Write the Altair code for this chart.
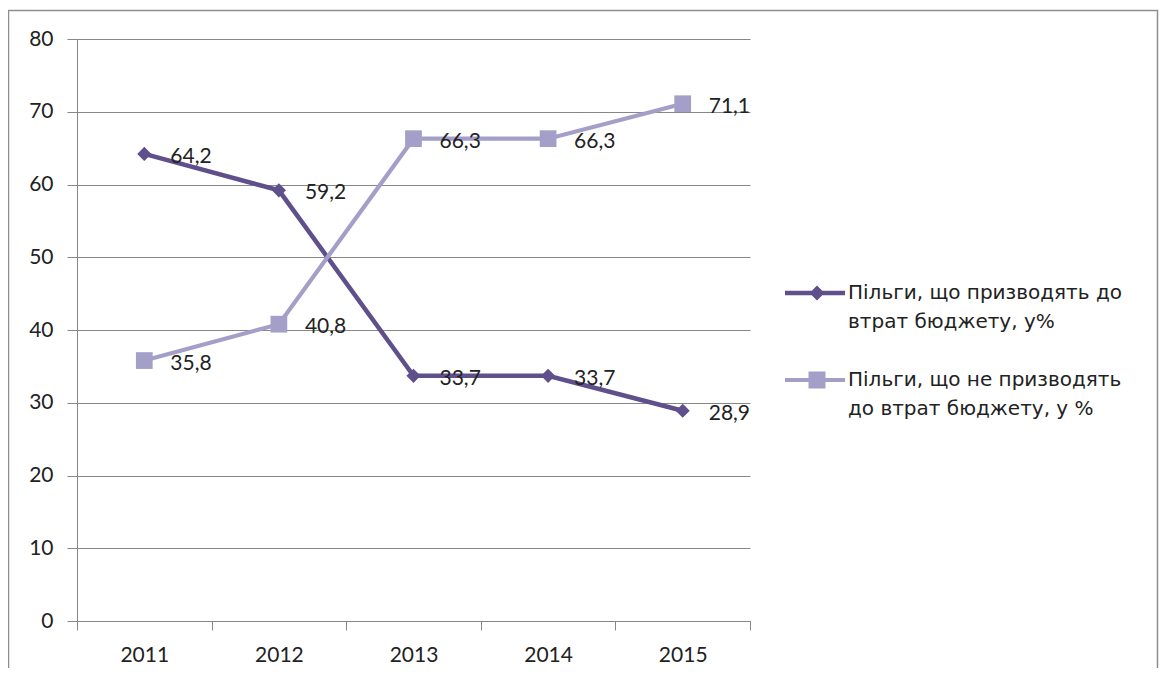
import altair as alt
import pandas as pd

years = ["2011", "2012", "2013", "2014", "2015"]
series_names = [
    "Пільги, що призводять до втрат бюджету,  у%",
    "Пільги, що не призводять до втрат бюджету, у %",
]
values_loss = [64.2, 59.2, 33.7, 33.7, 28.9]
values_noloss = [35.8, 40.8, 66.3, 66.3, 71.1]
legend_lines = [
    ["Пільги, що призводять до", "втрат бюджету,  у%"],
    ["Пільги, що не призводять", "до втрат бюджету, у %"],
]
y_ticks = [0, 10, 20, 30, 40, 50, 60, 70, 80]

colors = ["#5F4F8B", "#A39FC8"]
marker_shapes = ["diamond", "square"]
marker_sizes = [200, 280]
line_widths = [4.5, 4.2]

rows = []
for name, vals in zip(series_names, [values_loss, values_noloss]):
    for yr, v in zip(years, vals):
        rows.append({"year": yr, "series": name, "value": v})
df = pd.DataFrame(rows)

FONT = "Lato"
TXT = "#222222"
GRAY = "#878787"

x_enc = alt.X(
    "year:O",
    sort=years,
    scale=alt.Scale(type="band", paddingInner=0, paddingOuter=0),
    axis=alt.Axis(
        title=None, tickBand="extent", labelAngle=0, tickSize=9,
        domainColor=GRAY, tickColor=GRAY, labelFont=FONT, labelFontSize=21,
        labelColor=TXT, labelPadding=14, grid=False,
    ),
)
y_enc = alt.Y(
    "value:Q",
    scale=alt.Scale(domain=[0, 80], nice=False),
    axis=alt.Axis(
        title=None, values=y_ticks, tickSize=10, grid=True, gridColor=GRAY,
        gridWidth=1, domainColor=GRAY, tickColor=GRAY, labelFont=FONT,
        labelFontSize=21, labelColor=TXT, labelPadding=14,
    ),
)

base = alt.Chart(df)

layers = []
# outer frame
frame = alt.Chart(alt.Data(values=[{"f": 1}])).mark_rect(
    fillOpacity=0, stroke="#8e8e8e", strokeWidth=1.5
).encode(
    x=alt.value(-68.5), x2=alt.value(1080.5), y=alt.value(-28.5), y2=alt.value(720)
)
layers.append(frame)

for i, name in enumerate(series_names):
    sub = base.transform_filter(alt.datum.series == name)
    layers.append(
        sub.mark_line(strokeWidth=line_widths[i], color=colors[i]).encode(x=x_enc, y=y_enc)
    )
    layers.append(
        sub.mark_point(filled=True, opacity=1, color=colors[i], shape=marker_shapes[i],
                       size=marker_sizes[i], strokeWidth=0).encode(x=x_enc, y=y_enc)
    )

texts = base.transform_calculate(
    label="replace(format(datum.value, '.1f'), '.', ',')"
).mark_text(align="left", baseline="middle", dx=26, dy=3, font=FONT,
            fontSize=21, color=TXT).encode(x=x_enc, y=y_enc, text="label:N")
layers.append(texts)

# legend: 5 rows (two lines per series and a gap row)
legend_keys = [series_names[0], "k1b", "gap", series_names[1], "k2b"]
legend_labels = [legend_lines[0][0], legend_lines[0][1], "", legend_lines[1][0], legend_lines[1][1]]
legend_fill = [colors[0], "#ffffff", "#ffffff", colors[1], "#ffffff"]
# symbol unit = 10 px (symbolSize 400)
path1 = ("M-3,-0.225L3,-0.225L3,0.225L-3,0.225Z"
         "M0.2,-0.75L0.95,0L0.2,0.75L-0.55,0Z")
path2 = ("M-3,-0.2L3,-0.2L3,0.2L-3,0.2Z"
         "M-0.65,-0.85L1.05,-0.85L1.05,0.85L-0.65,0.85Z")
blank = "M0,0L0,0Z"
legend_shapes = [path1, blank, blank, path2, blank]

expr = "''"
for k, lab in reversed(list(zip(legend_keys, legend_labels))):
    expr = f"datum.label == '{k}' ? '{lab}' : ({expr})"

leg = alt.Legend(
    title=None, orient="none", legendX=728, legendY=244, padding=0,
    labelFont="DejaVu Sans", labelFontSize=20, labelColor=TXT, labelOffset=23,
    labelLimit=500, symbolSize=400, symbolStrokeWidth=0, symbolOpacity=1,
    rowPadding=9, labelExpr=expr,
)
legend_layer = base.mark_point(filled=True, opacity=0).encode(
    x=x_enc, y=y_enc,
    fill=alt.Fill("series:N", scale=alt.Scale(domain=legend_keys, range=legend_fill), legend=leg),
    shape=alt.Shape("series:N", scale=alt.Scale(domain=legend_keys, range=legend_shapes), legend=leg),
)
layers.append(legend_layer)

chart = alt.layer(*layers).properties(
    width=673, height=582,
    padding={"left": 69, "top": 31, "right": 409, "bottom": 47},
    autosize=alt.AutoSizeParams(type="none"),
    background="white",
).configure_view(strokeWidth=0)

chart.save("out.html", embed_options={"renderer": "svg", "actions": False})
